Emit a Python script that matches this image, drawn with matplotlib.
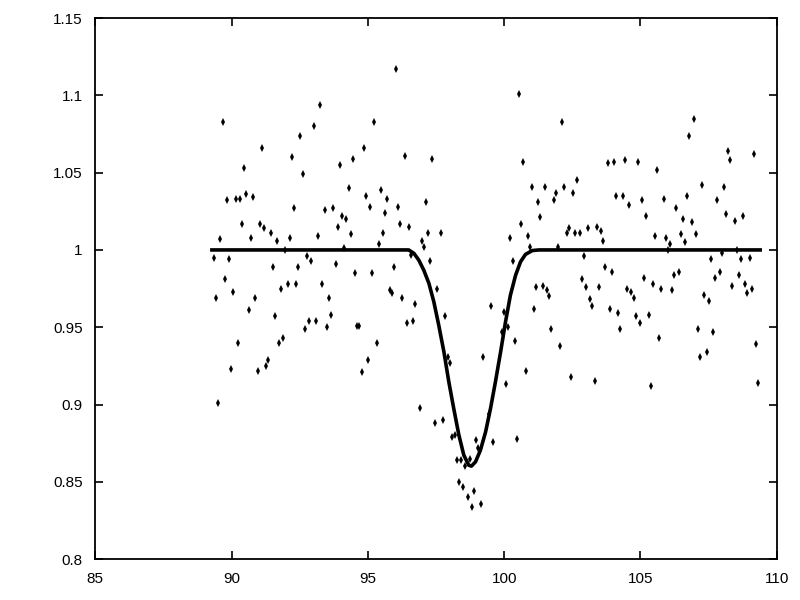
import matplotlib
matplotlib.use("Agg")
import matplotlib.pyplot as plt

# measured points (time, relative flux)
data_x = [
    89.67, 91.11, 92.21, 90.44, 89.82, 90.15, 90.30, 90.52, 90.77, 92.28,
    90.37, 91.03, 91.18, 91.43, 90.70, 91.66, 92.13, 89.56, 91.95, 89.34,
    89.89, 91.51, 92.43, 89.75, 92.06, 92.36, 91.80, 90.04, 89.42, 90.85,
    90.63, 91.58, 91.88, 90.22, 91.73, 91.33, 91.25, 89.97, 90.96, 89.49,
    96.02, 93.23, 93.01, 95.22, 92.53, 94.85, 94.45, 93.97, 92.61, 94.30,
    95.47, 94.92, 95.69, 95.07, 93.42, 93.71, 94.04, 94.19, 96.10, 95.62,
    96.17, 93.89, 94.37, 95.55, 93.16, 95.40, 94.12, 92.76, 92.90, 93.82,
    95.95, 94.52, 95.14, 93.31, 95.80, 95.88, 93.56, 93.64, 92.83, 93.09,
    92.69, 93.49, 94.59, 94.67, 95.33, 94.99, 94.77,
    96.35, 97.35, 97.13, 96.50, 97.20, 97.68, 96.98, 97.05, 96.57, 97.27,
    96.24, 96.72, 96.43, 96.65, 97.53, 97.82, 99.51, 97.93, 98.01, 99.22,
    96.91, 97.45, 97.75, 98.08, 98.19, 98.26, 98.41, 98.56, 98.74, 98.96,
    99.03, 99.58, 98.34, 98.48, 98.89, 98.67, 98.81, 99.14, 99.44,
    100.54, 102.12, 100.69, 102.67, 101.02, 101.49, 102.19, 101.89, 102.52, 101.24,
    101.82, 101.31, 100.61, 100.21, 100.87, 102.30, 102.38, 102.60, 102.78, 103.07,
    103.40, 100.94, 101.97, 100.32, 102.93, 102.85, 103.00, 103.47, 101.16, 101.42,
    101.57, 101.64, 103.14, 103.22, 101.09, 99.99, 101.71, 99.92, 100.14, 100.39,
    102.04, 100.80, 102.45, 103.33, 100.06, 100.47,
    106.96, 106.78, 105.60, 103.81, 104.03, 104.43, 104.91, 104.10, 104.36, 104.58,
    105.05, 105.20, 105.86, 106.71, 106.30, 106.56, 106.89, 103.55, 103.62, 105.53,
    105.93, 106.08, 106.48, 106.63, 107.03, 106.01, 103.70, 103.95, 105.13, 105.46,
    106.23, 106.41, 105.75, 106.15, 104.50, 104.65, 104.76, 103.88, 104.17, 104.83,
    104.98, 105.31, 104.25, 105.68, 107.11, 107.18, 105.39,
    108.21, 108.28, 109.17, 107.26, 108.06, 107.81, 108.14, 108.47, 108.76, 108.54,
    107.99, 107.58, 108.69, 109.02, 107.92, 107.73, 108.62, 108.36, 108.84, 108.91,
    109.09, 107.33, 107.51, 107.66, 107.44, 109.24, 109.31,
]
data_y = [
    1.083, 1.066, 1.060, 1.053, 1.032, 1.033, 1.033, 1.036, 1.034, 1.027,
    1.017, 1.017, 1.014, 1.011, 1.008, 1.006, 1.008, 1.007, 1.000, 0.995,
    0.994, 0.989, 0.989, 0.981, 0.978, 0.978, 0.975, 0.973, 0.969, 0.969,
    0.961, 0.957, 0.943, 0.940, 0.940, 0.929, 0.925, 0.923, 0.922, 0.901,
    1.117, 1.094, 1.080, 1.083, 1.074, 1.066, 1.059, 1.055, 1.049, 1.040,
    1.039, 1.035, 1.033, 1.028, 1.026, 1.027, 1.022, 1.020, 1.028, 1.024,
    1.017, 1.015, 1.010, 1.011, 1.009, 1.004, 1.001, 0.996, 0.993, 0.991,
    0.989, 0.985, 0.985, 0.978, 0.974, 0.972, 0.969, 0.958, 0.954, 0.954,
    0.949, 0.950, 0.951, 0.951, 0.940, 0.929, 0.921,
    1.061, 1.059, 1.031, 1.015, 1.011, 1.011, 1.006, 1.002, 0.997, 0.993,
    0.969, 0.965, 0.953, 0.954, 0.975, 0.957, 0.964, 0.931, 0.927, 0.931,
    0.898, 0.888, 0.890, 0.879, 0.880, 0.864, 0.864, 0.860, 0.865, 0.877,
    0.872, 0.876, 0.850, 0.847, 0.844, 0.840, 0.834, 0.836, 0.894,
    1.101, 1.083, 1.057, 1.045, 1.041, 1.041, 1.041, 1.037, 1.037, 1.031,
    1.032, 1.021, 1.017, 1.008, 1.009, 1.011, 1.014, 1.011, 1.011, 1.014,
    1.015, 1.002, 1.002, 0.993, 0.996, 0.981, 0.976, 0.976, 0.976, 0.977,
    0.974, 0.970, 0.968, 0.964, 0.962, 0.960, 0.949, 0.947, 0.950, 0.941,
    0.938, 0.922, 0.918, 0.915, 0.913, 0.878,
    1.085, 1.074, 1.052, 1.056, 1.057, 1.058, 1.057, 1.035, 1.035, 1.029,
    1.032, 1.022, 1.033, 1.035, 1.027, 1.020, 1.018, 1.012, 1.006, 1.009,
    1.008, 1.004, 1.010, 1.005, 1.010, 1.000, 0.989, 0.986, 0.982, 0.978,
    0.984, 0.986, 0.975, 0.974, 0.975, 0.973, 0.969, 0.962, 0.959, 0.957,
    0.953, 0.958, 0.949, 0.943, 0.949, 0.931, 0.912,
    1.064, 1.058, 1.062, 1.042, 1.041, 1.032, 1.023, 1.019, 1.022, 1.000,
    0.998, 0.994, 0.994, 0.995, 0.986, 0.982, 0.984, 0.977, 0.978, 0.972,
    0.975, 0.971, 0.967, 0.947, 0.934, 0.939, 0.914,
]

# fitted model curve
curve_x = [89.28, 96.50, 96.69, 96.87, 97.05, 97.24, 97.42, 97.60, 97.79, 97.97,
           98.15, 98.34, 98.52, 98.70, 98.80, 98.95, 99.13, 99.32, 99.50, 99.68,
           99.87, 100.05, 100.23, 100.42, 100.60, 100.78, 101.03, 101.27, 109.39]
curve_y = [1.000, 1.000, 0.9978, 0.9934, 0.9870, 0.9784, 0.9665, 0.9514, 0.9341, 0.9147,
           0.8975, 0.8802, 0.8673, 0.8608, 0.8602, 0.8630, 0.8705, 0.8824, 0.8975, 0.9147,
           0.9341, 0.9535, 0.9708, 0.9837, 0.9923, 0.9971, 0.9996, 1.000, 1.000]

xticks = [85, 90, 95, 100, 105, 110]
yticks = [0.8, 0.85, 0.9, 0.95, 1.0, 1.05, 1.1, 1.15]
ytick_labels = ["0.8", "0.85", "0.9", "0.95", "1", "1.05", "1.1", "1.15"]

plt.rcParams['font.family'] = ['Liberation Sans', 'DejaVu Sans']

fig = plt.figure(figsize=(8, 6), dpi=100)
ax = fig.add_axes([0.119, 0.068, 0.852, 0.902])

ax.plot(data_x, data_y, linestyle='none', marker='d', markersize=3.8,
        color='black', markeredgewidth=0)
ax.plot(curve_x, curve_y, color='black', linewidth=2.6, solid_joinstyle='round')

ax.set_xlim(85, 110)
ax.set_ylim(0.8, 1.15)
ax.set_xticks(xticks)
ax.set_xticklabels([str(t) for t in xticks])
ax.set_yticks(yticks)
ax.set_yticklabels(ytick_labels)

ax.tick_params(direction='in', length=6, width=1.2, top=True, right=True,
               labelsize=11, colors='black')
ax.tick_params(axis='y', pad=9)
ax.tick_params(axis='x', pad=9)
for s in ax.spines.values():
    s.set_linewidth(1.3)

fig.savefig('out.png', dpi=100)
